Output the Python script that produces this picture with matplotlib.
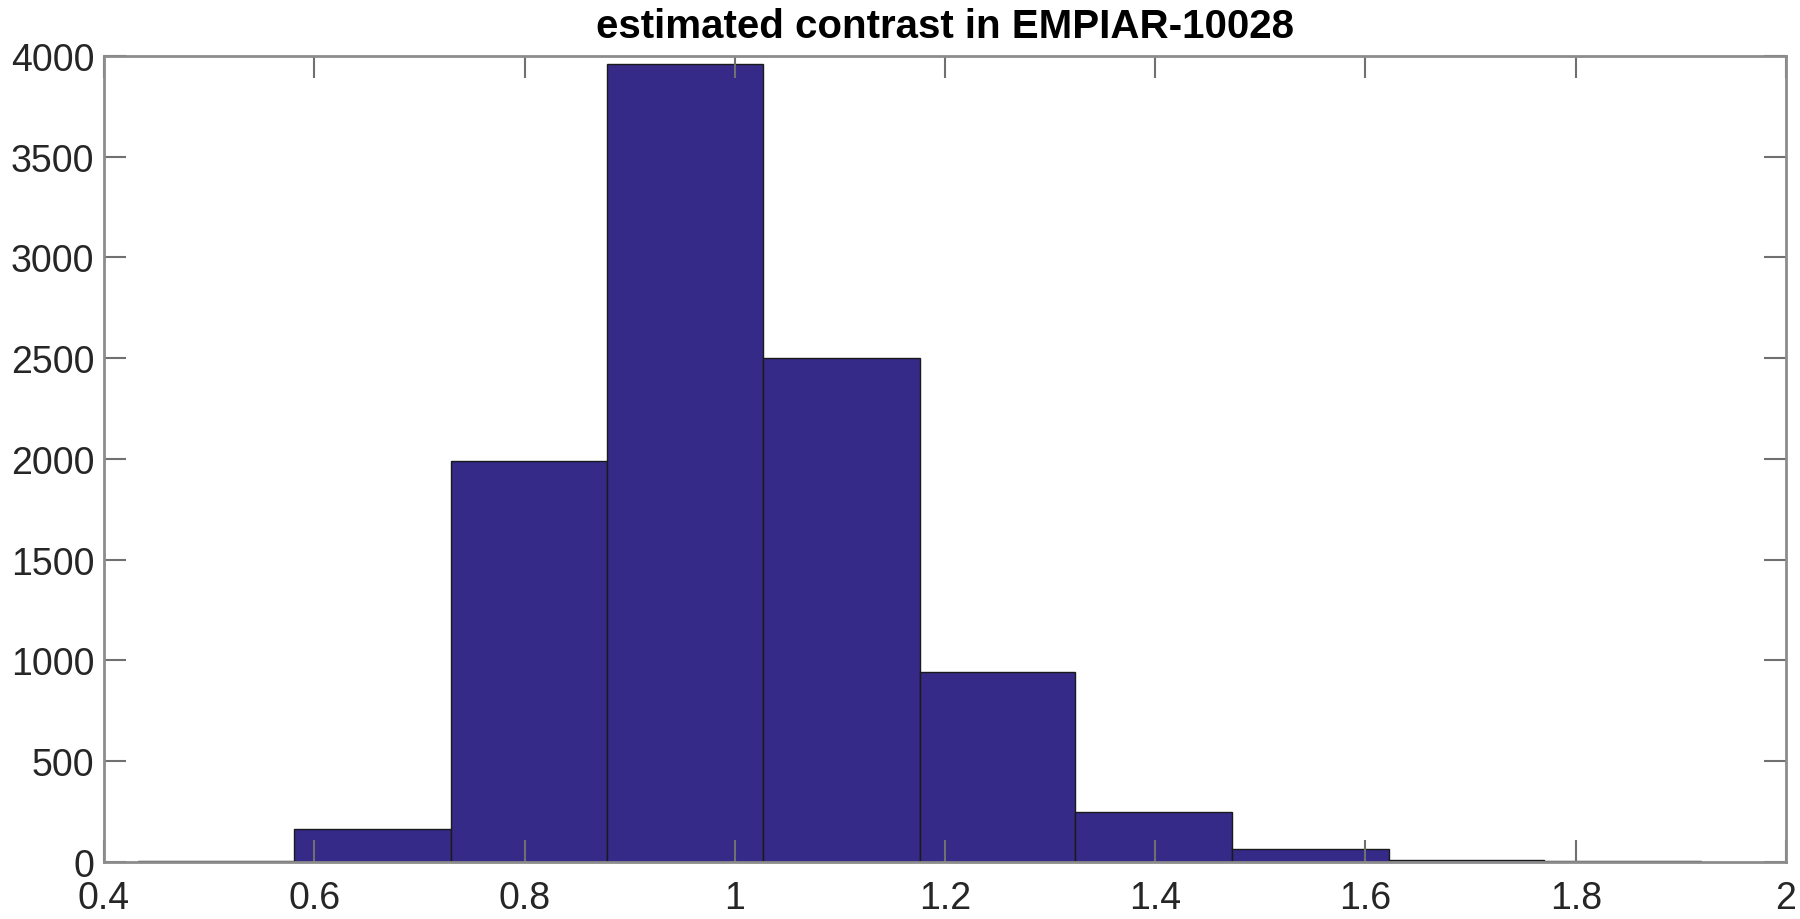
import matplotlib
matplotlib.use("Agg")
import matplotlib.pyplot as plt
import numpy as np

# histogram of estimated contrast (bin edges and counts)
bin_edges = [0.432, 0.581, 0.730, 0.878, 1.027, 1.176, 1.324, 1.473, 1.622, 1.770, 1.919]
counts = [1, 163, 1990, 3960, 2500, 940, 246, 63, 6, 1]
x_ticks = [0.4, 0.6, 0.8, 1.0, 1.2, 1.4, 1.6, 1.8, 2.0]
x_labels = ["0.4", "0.6", "0.8", "1", "1.2", "1.4", "1.6", "1.8", "2"]
y_ticks = [0, 500, 1000, 1500, 2000, 2500, 3000, 3500, 4000]

plt.rcParams['font.family'] = ['Liberation Sans', 'DejaVu Sans']

fig = plt.figure(figsize=(18, 9.2), dpi=100)
ax = fig.add_axes([0.0578, 0.0623, 0.9344, 0.8757])

edges = np.array(bin_edges)
ax.bar(edges[:-1], counts, width=np.diff(edges), align='edge',
       color='#352a87', edgecolor='#1a1a1a', linewidth=1.0)

ax.set_xlim(0.4, 2.0)
ax.set_ylim(0, 4000)
ax.set_xticks(x_ticks)
ax.set_xticklabels(x_labels)
ax.set_yticks(y_ticks)
ax.tick_params(direction='in', length=16, width=1.5, color='#707070',
               labelcolor='#262626', labelsize=27, top=True, right=True)
ax.tick_params(axis='x', pad=13)
ax.tick_params(axis='y', pad=7)
for s in ax.spines.values():
    s.set_color('#8c8c8c')
    s.set_linewidth(2)

ax.set_title('estimated contrast in EMPIAR-10028', fontsize=29, fontweight='bold', pad=14)

fig.savefig('out.png', dpi=100)
